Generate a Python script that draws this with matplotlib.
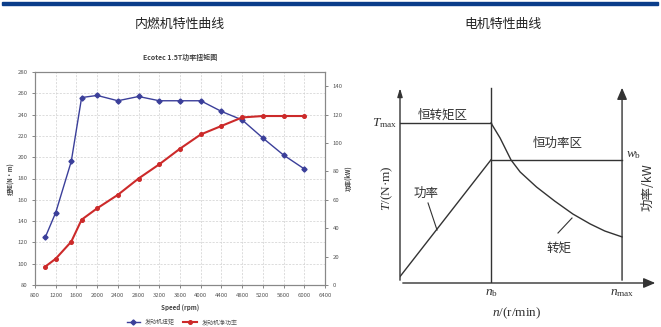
import matplotlib
matplotlib.use("Agg")
import matplotlib.pyplot as plt
from matplotlib.patches import Rectangle

plt.rcParams['font.family'] = ['Noto Sans CJK SC', 'DejaVu Sans']
plt.rcParams['mathtext.fontset'] = 'custom'
plt.rcParams['mathtext.rm'] = 'Liberation Serif'
plt.rcParams['mathtext.it'] = 'Liberation Serif:italic'

# engine curve data (Ecotec 1.5T)
speed = [1000, 1200, 1500, 1700, 2000, 2400, 2800, 3200, 3600, 4000, 4400, 4800, 5200, 5600, 6000]
torque = [125, 148, 196, 256, 258, 253, 257, 253, 253, 253, 243, 235, 218, 202, 189]
power = [13, 18.5, 30.5, 46, 54, 63.5, 75, 85, 96, 106, 112, 118, 119, 119, 119]
speed_ticks = list(range(800, 6401, 400))
torque_ticks = list(range(80, 281, 20))
power_ticks = list(range(0, 141, 20))

# motor schematic (normalised: n_b = 1, T_max = 1)
n_b = 1.0
n_max = 2.44
t_max = 1.0
w_b = 0.77
power_n = [0.0, n_b]
power_w = [0.04, w_b]
torque_n = [1.0, 1.10, 1.22, 1.32, 1.50, 1.70, 1.90, 2.09, 2.25, 2.44]
torque_t = [1.0, 0.906, 0.769, 0.694, 0.60, 0.512, 0.431, 0.369, 0.325, 0.288]

W, H = 661, 327
fig = plt.figure(figsize=(W / 100, H / 100), dpi=100)
fig.patches.append(Rectangle((2 / W, 1 - 5 / H), 656 / W, 3 / H,
                             transform=fig.transFigure, color='#0a3d8a', zorder=5))
fig.text(180 / W, 1 - 24 / H, '内燃机特性曲线', ha='center', va='center', fontsize=9.3, color='#222')
fig.text(503 / W, 1 - 24 / H, '电机特性曲线', ha='center', va='center', fontsize=9.3, color='#222')

# ---- left: engine torque / power
ax = fig.add_axes([35 / W, 1 - 285 / H, 290 / W, 213 / H])
ax.set_xlim(800, 6400)
ax.set_ylim(80, 280)
ax.set_xticks(speed_ticks)
ax.set_yticks(torque_ticks)
ax.grid(True, ls=(0, (3, 2)), lw=0.5, color='#cfcfcf')
ax.tick_params(labelsize=4.3, colors='#555', length=2, width=0.5)
for s in ax.spines.values():
    s.set_color('#888')
    s.set_linewidth(0.8)
l1, = ax.plot(speed, torque, color='#3b3f9a', lw=1.0, marker='D', ms=2.6, label='发动机扭矩')
ax.set_ylabel('扭矩(N·m)', fontsize=4.3, fontweight='bold', color='#444', labelpad=2)
ax.set_xlabel('Speed (rpm)', fontsize=4.5, fontweight='bold', color='#444', labelpad=4)
ax.set_title('Ecotec 1.5T功率扭矩图', fontsize=5, fontweight='bold', color='#444', pad=9)

ax2 = ax.twinx()
ax2.set_ylim(0, 150)
ax2.set_yticks(power_ticks)
ax2.tick_params(labelsize=4.3, colors='#555', length=2, width=0.5)
for s in ax2.spines.values():
    s.set_color('#888')
    s.set_linewidth(0.8)
l2, = ax2.plot(speed, power, color='#cc2a2a', lw=1.5, marker='o', ms=2.6, label='发动机净功率')
ax2.set_ylabel('功率(kW)', fontsize=4.3, fontweight='bold', color='#444', labelpad=1)

fig.legend([l1, l2], [l1.get_label(), l2.get_label()], loc='center',
           bbox_to_anchor=(182 / W, 1 - 322 / H), ncol=2, frameon=False,
           fontsize=4.3, handlelength=2.2, columnspacing=1.5, labelcolor='#555')

# ---- right: motor characteristic schematic
bx = fig.add_axes([400 / W, 1 - 283 / H, 258 / W, 198 / H])
bx.set_xlim(0, 2.835)
bx.set_ylim(0, 1.2375)
bx.axis('off')
c = '#333'
lw = 1.0
top = 1.22
bx.annotate('', xy=(0, 1.235), xytext=(0, 0),
            arrowprops=dict(arrowstyle='-|>,head_length=0.5,head_width=0.15', color=c, lw=lw))
bx.annotate('', xy=(2.835, 0), xytext=(0, 0),
            arrowprops=dict(arrowstyle='-|>,head_length=0.7,head_width=0.3', color=c, lw=lw))
bx.annotate('', xy=(n_max, 1.2375), xytext=(n_max, 0),
            arrowprops=dict(arrowstyle='-|>,head_length=0.7,head_width=0.3', color=c, lw=lw))
bx.plot([n_b, n_b], [0, top], color=c, lw=lw)
bx.plot([0, n_b], [t_max, t_max], color=c, lw=lw)
bx.plot([n_b, n_max], [w_b, w_b], color=c, lw=lw)
bx.plot(power_n, power_w, color=c, lw=lw)
bx.plot(torque_n, torque_t, color=c, lw=lw)

# leader lines for the curve labels
bx.plot([0.308, 0.407], [0.50, 0.331], color=c, lw=0.8)
bx.plot([1.736, 1.89], [0.3125, 0.406], color=c, lw=0.8)

cjk = dict(fontsize=9, color='#333')
bx.text(0.4725, 1.05, '恒转矩区', ha='center', va='center', **cjk)
bx.text(1.736, 0.875, '恒功率区', ha='center', va='center', **cjk)
bx.text(0.286, 0.5625, '功率', ha='center', va='center', **cjk)
bx.text(1.747, 0.219, '转矩', ha='center', va='center', **cjk)
bx.text(2.725, 0.60, '功率/kW', ha='center', va='center', rotation=90, fontsize=9, color='#333',
        family=['Noto Sans CJK SC', 'Liberation Serif'], clip_on=False)

serif = dict(family='Liberation Serif', color='#333', fontsize=9.5)
bx.text(-0.03, 1.0, r'$\mathit{T}_{\mathrm{max}}$', ha='right', va='center', **serif)
bx.text(2.48, 0.80, r'$\mathit{w}_{\mathrm{b}}$', ha='left', va='center', **serif)
bx.text(n_b, -0.0625, r'$\mathit{n}_{\mathrm{b}}$', ha='center', va='center', **serif)
bx.text(n_max, -0.0625, r'$\mathit{n}_{\mathrm{max}}$', ha='center', va='center', **serif)
bx.text(1.286, -0.1875, r'$\mathit{n}$/(r/min)', ha='center', va='center', **serif)
bx.text(-0.143, 0.594, r'$\mathit{T}$/(N·m)', ha='center', va='center', rotation=90, **serif)

fig.savefig('out.png', dpi=100)
